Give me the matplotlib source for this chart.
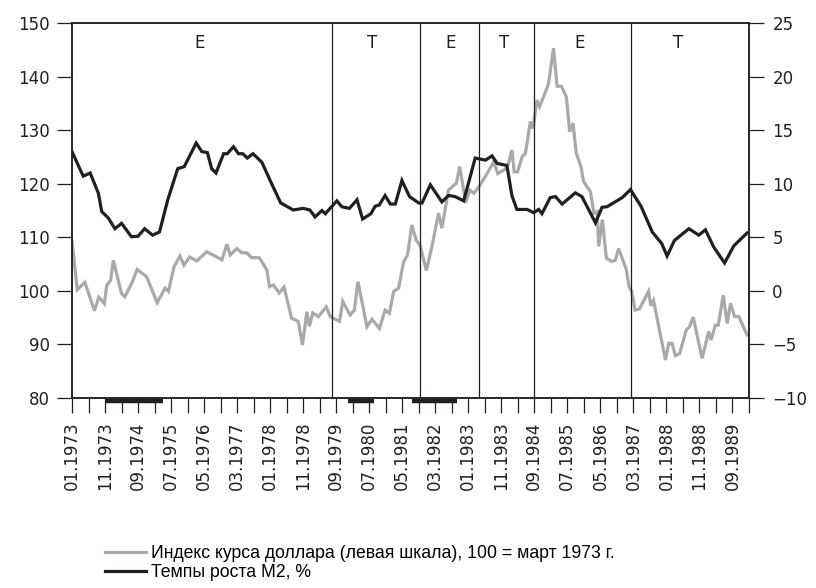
import numpy as np
import matplotlib
matplotlib.use('Agg')
import matplotlib.pyplot as plt
import matplotlib.transforms as mtransforms

# months counted from 01.1973
usd_month = [0, 1.6, 3.9, 6.8, 8.1, 9.8, 10.5, 11.7, 12.5, 15, 16, 18.3, 19.7, 22.6, 25.8, 28.2,
             29.2, 30.9, 32.7, 33.9, 35.6, 37.8, 40.8, 45.4, 46.9, 47.9, 49.9, 51.4, 52.9, 54.4,
             56.7, 59, 59.8, 61, 62.7, 64.2, 66.5, 68.5, 69.8, 71.1, 71.9, 72.9, 74.6, 77, 78.2,
             81, 82, 84.2, 85.5, 86.6, 89.3, 90.8, 93.1, 94.8, 96.1, 97.4, 98.9, 100.4, 101.6,
             102.9, 104.2, 105.5, 107.3, 109, 111, 112, 114, 116.4, 117.4, 119.2, 120.5, 121.7,
             123.2, 125.7, 127.7, 128.9, 131.2, 132.2, 133.2, 133.9, 134.9, 136.3, 137.3, 138.8,
             139.6, 140.8, 141.6, 143.6, 144.3, 145.8, 146.9, 148.2, 149.7, 150.7, 151.7, 152.7,
             154.1, 154.9, 157, 158, 159, 159.5, 160.6, 161.8, 163.4, 164.5, 165.5, 167.8, 168.7,
             169.5, 170.5, 171.8, 174.6, 175.3, 176.1, 179.7, 180.7, 181.7, 182.7, 184, 186, 187,
             188.1, 190.8, 192.8, 193.5, 194.8, 195.7, 197.2, 198.4, 199.4, 200.6, 201.9, 204.4]
usd_index = [109.3, 100.2, 101.6, 96.3, 98.8, 97.6, 101.0, 102.0, 105.7, 99.5, 98.9, 101.7, 104.0,
             102.6, 97.8, 100.5, 99.9, 104.5, 106.5, 104.8, 106.3, 105.6, 107.3, 105.8, 108.7, 106.7,
             107.9, 107.1, 107.1, 106.2, 106.2, 103.9, 100.8, 101.1, 99.6, 100.7, 94.9, 94.3, 89.9,
             96.1, 93.4, 95.9, 95.2, 97.0, 95.2, 94.3, 98.0, 95.5, 96.4, 101.7, 93.3, 94.7, 93.0,
             96.4, 95.8, 99.9, 100.5, 105.4, 106.7, 112.3, 109.5, 108.3, 103.8, 108.3, 114.5, 111.7,
             118.8, 120.1, 123.2, 116.5, 118.8, 118.2, 119.4, 121.9, 124.1, 121.9, 122.7, 123.8,
             126.3, 122.2, 122.2, 125.0, 125.7, 131.6, 130.3, 135.6, 134.4, 137.5, 138.7, 145.3,
             138.2, 138.2, 136.2, 129.7, 131.3, 125.7, 123.2, 120.4, 118.5, 114.5, 114.8, 108.3,
             113.3, 106.1, 105.5, 105.7, 107.9, 104.1, 100.7, 99.9, 96.4, 96.6, 99.9, 97.2, 98.2,
             87.1, 90.2, 90.2, 87.9, 88.3, 92.7, 93.3, 95.1, 87.4, 92.4, 90.8, 93.6, 93.6, 99.2,
             93.9, 97.7, 95.2, 95.2, 91.8]

m2_month = [0, 3.4, 5.5, 8, 9, 11, 13, 15, 18, 20, 22, 24.4, 26.5, 29, 32, 34, 37.6, 39.3, 41,
            42.3, 43.6, 45.9, 47, 48.9, 50.4, 51.7, 53.1, 54.8, 57.5, 60, 63.2, 67, 70, 72, 73.6,
            75.7, 76.7, 80.2, 81.7, 84, 86.3, 88, 90.5, 91.8, 93, 94.8, 96.4, 97.9, 99.9, 102.2,
            105, 106, 108.5, 112, 114, 116, 118.6, 122.1, 125.2, 127.2, 128.7, 131.7, 133.2,
            134.7, 137.8, 139.8, 141.3, 142.3, 144.8, 146.4, 148.4, 152.4, 154.4, 156.5, 158.5,
            160.5, 162, 166.6, 169.1, 172.3, 175.7, 178.6, 180.2, 182.4, 186.8, 189.8, 191.8,
            194.3, 197.6, 200.4, 204.4]
m2_growth = [13.0, 10.7, 11.0, 9.1, 7.4, 6.8, 5.8, 6.3, 5.05, 5.1, 5.8, 5.2, 5.5, 8.5, 11.4, 11.6,
             13.8, 13.0, 12.9, 11.4, 11.0, 12.8, 12.8, 13.45, 12.8, 12.8, 12.4, 12.8, 12.0, 10.3,
             8.2, 7.55, 7.7, 7.55, 6.9, 7.5, 7.2, 8.4, 7.85, 7.7, 8.5, 6.7, 7.2, 7.9, 8.0, 8.9,
             8.1, 8.1, 10.3, 8.8, 8.2, 8.2, 9.9, 8.3, 8.9, 8.8, 8.4, 12.4, 12.2, 12.6, 11.9, 11.7,
             8.9, 7.6, 7.6, 7.3, 7.6, 7.2, 8.7, 8.8, 8.1, 9.15, 8.8, 7.55, 6.35, 7.8, 7.85, 8.7,
             9.45, 7.9, 5.5, 4.4, 3.25, 4.7, 5.8, 5.2, 5.7, 4.1, 2.6, 4.2, 5.4]

# regime boundaries, labels and recessions (months from 01.1973)
regime_bounds = [78.7, 105.3, 123.1, 139.9, 169.3]
regime_labels = ['E', 'T', 'E', 'T', 'E', 'T']
regime_label_x = [38.5, 91, 114.5, 131, 153.6, 183.6]
recessions = [(10, 27.6), (83.5, 91.3), (103, 116.6)]

GRAY = '#a8a9ab'
BLACK = '#231f20'

plt.rcParams['font.family'] = ['DejaVu Sans']
plt.rcParams['font.size'] = 12

fig = plt.figure(figsize=(8.16, 5.88), dpi=100)
ax = fig.add_axes([72 / 816, 1 - 398 / 588, (749 - 72) / 816, (398 - 23) / 588])
ax2 = ax.twinx()

ax.plot(usd_month, usd_index, color=GRAY, lw=2.3, solid_joinstyle='miter')
ax2.plot(m2_month, m2_growth, color=BLACK, lw=2.3, solid_joinstyle='miter')

for b in regime_bounds:
    ax.axvline(b, color=BLACK, lw=0.9)
for x, t in zip(regime_label_x, regime_labels):
    ax.text(x, 146.2, t, ha='center', va='center', fontsize=12, color=BLACK)

trans = mtransforms.blended_transform_factory(ax.transData, ax.transAxes)
for a, b in recessions:
    ax.plot([a, b], [-0.008, -0.008], transform=trans, color=BLACK, lw=3.2,
            solid_capstyle='butt', clip_on=False)

ax.set_xlim(0, 205)
ax.set_ylim(80, 150)
ax2.set_ylim(-10, 25)
ax.set_yticks(np.arange(80, 151, 10))
ax2.set_yticks(np.arange(-10, 26, 5))

ticks = np.arange(0, 206, 5)
labels = ['%02d.%d' % (m % 12 + 1, 1973 + m // 12) if m % 10 == 0 and m <= 200 else ''
          for m in ticks]
ax.set_xticks(ticks)
ax.set_xticklabels(labels, rotation=90, va='top', ha='center')

for a in (ax, ax2):
    for s in a.spines.values():
        s.set_linewidth(1.1)
        s.set_color(BLACK)
ax.tick_params(axis='both', direction='out', length=10.8, width=0.9, color=BLACK,
               labelcolor=BLACK, labelsize=12)
ax.tick_params(axis='y', pad=5)
ax.tick_params(axis='x', pad=6)
ax2.tick_params(axis='y', direction='out', length=10.8, width=0.9, color=BLACK,
                labelcolor=BLACK, labelsize=12, pad=6)

h1, = ax.plot([], [], color=GRAY, lw=2.3)
h2, = ax.plot([], [], color=BLACK, lw=2.3)
fig.legend([h1, h2],
           ['Индекс курса доллара (левая шкала), 100 = март 1973 г.', 'Темпы роста М2, %'],
           loc='upper left', bbox_to_anchor=(105 / 816, 1 - 545 / 588), frameon=False,
           handlelength=2.35, handletextpad=0.25, labelspacing=0.1,
           prop={'family': 'Liberation Sans', 'size': 12.7},
           borderaxespad=0, borderpad=0)

fig.savefig('out.png', dpi=100)
